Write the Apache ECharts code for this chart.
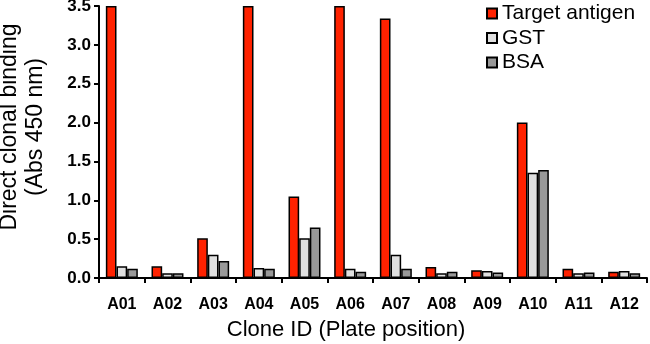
<!DOCTYPE html>
<html>
<head>
<meta charset="utf-8">
<script src="https://cdn.jsdelivr.net/npm/echarts@6/dist/echarts.min.js"></script>
<style>html,body{margin:0;padding:0;background:#fff}#c{width:650px;height:344px}</style>
</head>
<body>
<div id="c"></div>
<script>
const categories = ['A01','A02','A03','A04','A05','A06','A07','A08','A09','A10','A11','A12'];
const targetAntigen = [3.5, 0.15, 0.51, 3.5, 1.05, 3.5, 3.34, 0.14, 0.10, 2.0, 0.12, 0.08];
const gst = [0.15, 0.06, 0.30, 0.13, 0.51, 0.12, 0.30, 0.06, 0.09, 1.355, 0.06, 0.09];
const bsa = [0.12, 0.06, 0.22, 0.12, 0.65, 0.08, 0.12, 0.08, 0.07, 1.39, 0.07, 0.06];
const yTicks = [0, 0.5, 1.0, 1.5, 2.0, 2.5, 3.0, 3.5];

const FONT = 'Liberation Sans, Arial, sans-serif';
const chart = echarts.init(document.getElementById('c'), null, {renderer: 'canvas'});
function bar(name, data, color) {
  return {
    name, type: 'bar', data,
    barGap: '0%', barCategoryGap: '30%',
    itemStyle: {color, borderColor: '#000', borderWidth: 1.5},
    emphasis: {disabled: true}
  };
}
chart.setOption({
  animation: false,
  textStyle: {fontFamily: FONT},
  grid: {left: 99, right: 3, top: 6, bottom: 66, containLabel: false, outerBoundsMode: 'none'},
  legend: {
    orient: 'vertical', left: 481, top: -2, itemWidth: 10, itemHeight: 10, itemGap: 3.5,
    icon: 'rect',
    textStyle: {fontFamily: FONT, fontSize: 21, color: '#000', lineHeight: 20},
    data: ['Target antigen', 'GST', 'BSA']
  },
  xAxis: {
    type: 'category', data: categories,
    name: 'Clone ID (Plate position)', nameLocation: 'middle', nameGap: 41,
    nameTextStyle: {fontFamily: FONT, fontSize: 22, color: '#000', padding: [0, 54, 0, 0]},
    axisLine: {lineStyle: {color: '#000', width: 2}},
    axisTick: {show: true, length: 5, lineStyle: {color: '#000', width: 2}},
    axisLabel: {fontFamily: FONT, fontSize: 16, fontWeight: 'bold', color: '#000', margin: 19}
  },
  yAxis: {
    type: 'value', min: yTicks[0], max: yTicks[yTicks.length - 1], interval: 0.5,
    name: 'Direct clonal binding\n(Abs 450 nm)', nameLocation: 'middle', nameGap: 50,
    nameTextStyle: {fontFamily: FONT, fontSize: 23, color: '#000', lineHeight: 26, padding: [0, 0, 0, 30]},
    axisLine: {show: true, lineStyle: {color: '#000', width: 2}},
    axisTick: {show: true, length: 5, lineStyle: {color: '#000', width: 2}},
    splitLine: {show: false},
    axisLabel: {fontFamily: FONT, fontSize: 17, fontWeight: 'bold', color: '#000', margin: 8,
      formatter: v => v.toFixed(1)}
  },
  series: [
    bar('Target antigen', targetAntigen, '#ff2200'),
    bar('GST', gst, '#e0e0e0'),
    bar('BSA', bsa, '#999999')
  ]
});
</script>
</body>
</html>
